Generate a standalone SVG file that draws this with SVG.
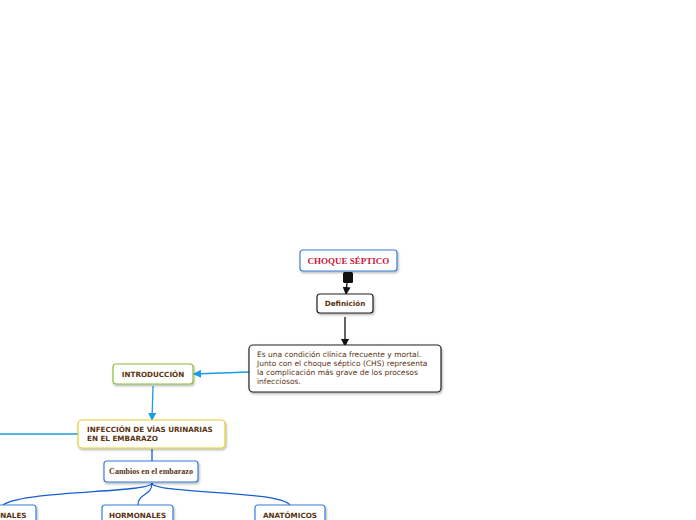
<svg xmlns="http://www.w3.org/2000/svg" width="696" height="520" viewBox="0 0 696 520">
<style>
.box{fill:#fff;stroke-width:1.2;filter:url(#sh)}
.b{stroke:#3a7fdc}
.k{stroke:#222}
.g{stroke:#8cbc3c}
.y{stroke:#e5d02a}
.t{font-family:"DejaVu Sans",Verdana,sans-serif;font-size:7.2px;fill:#5a3410;font-weight:bold}
.d{font-family:"DejaVu Sans",Verdana,sans-serif;font-size:7.5px;fill:#5a3410}
.s{font-family:"Liberation Serif","Times New Roman",serif}
.lb{fill:none;stroke:#1c9be0;stroke-width:1.3}
.db{fill:none;stroke:#1a5fd0;stroke-width:1.3}
.lk{fill:none;stroke:#111;stroke-width:1.3}
</style>
<defs>
<filter id="sh" x="-10%" y="-20%" width="130%" height="160%">
<feDropShadow dx="1" dy="1.5" stdDeviation="1" flood-color="#000" flood-opacity="0.3"/>
</filter>
<marker id="ak" markerWidth="8" markerHeight="8" refX="7" refY="4" orient="auto" markerUnits="userSpaceOnUse"><path d="M0,0 L8,4 L0,8 Z" fill="#111"/></marker>
<marker id="ab" markerWidth="8" markerHeight="8" refX="7" refY="4" orient="auto" markerUnits="userSpaceOnUse"><path d="M0,0 L8,4 L0,8 Z" fill="#1c9be0"/></marker>
</defs>
<g id="connectors">
<rect x="343" y="272" width="10" height="11" rx="1.5" fill="#111"/>
<path class="lk" d="M347,283 L346,294" marker-end="url(#ak)"/>
<path class="lk" d="M345,317 L345,346" marker-end="url(#ak)"/>
<path class="lb" d="M249,372 L194,374" marker-end="url(#ab)"/>
<path class="lb" d="M153,386 L152,420" marker-end="url(#ab)"/>
<path class="lb" d="M0,434 L78,434"/>
<path class="db" d="M152,449 L152,462"/>
<path class="db" d="M152,483 C152,493 25,490 3,505"/>
<path class="db" d="M152,483 C152,496 138,493 138,505"/>
<path class="db" d="M152,483 C152,494 278,490 290,505"/>
</g>
<g id="n-choque">
<rect class="box b" x="300" y="250" width="97" height="21" rx="3"/>
<text x="348.5" y="264" text-anchor="middle" class="s" font-size="9" font-weight="bold" fill="#c8163c">CHOQUE SÉPTICO</text>
</g>
<g id="n-definicion">
<rect class="box k" x="317" y="294" width="56" height="19" rx="3"/>
<text x="345" y="306" text-anchor="middle" class="t">Definición</text>
</g>
<g id="n-desc">
<rect class="box k" x="249" y="345" width="192" height="47" rx="4"/>
<text class="d" x="257" y="357">Es una condición clínica frecuente y mortal.</text>
<text class="d" x="257" y="366">Junto con el choque séptico (CHS) representa</text>
<text class="d" x="257" y="375">la complicación más grave de los procesos</text>
<text class="d" x="257" y="384">infecciosos.</text>
</g>
<g id="n-intro">
<rect class="box g" x="113" y="364" width="80" height="20" rx="3"/>
<text x="153" y="377" text-anchor="middle" class="t">INTRODUCCIÓN</text>
</g>
<g id="n-infeccion">
<rect class="box y" x="78" y="420" width="147" height="28" rx="4"/>
<text x="87" y="432" class="t">INFECCIÓN DE VÍAS URINARIAS</text>
<text x="87" y="441" class="t">EN EL EMBARAZO</text>
</g>
<g id="n-cambios">
<rect class="box b" x="104" y="461" width="94" height="21" rx="3"/>
<text x="151" y="474" text-anchor="middle" class="s" font-size="8" font-weight="bold" fill="#5a3410">Cambios en el embarazo</text>
</g>
<g id="n-funcionales">
<rect class="box b" x="-40" y="505" width="76" height="24" rx="3"/>
<text x="-2" y="518" text-anchor="middle" class="t">FUNCIONALES</text>
</g>
<g id="n-hormonales">
<rect class="box b" x="102" y="505" width="71" height="24" rx="3"/>
<text x="137.5" y="518" text-anchor="middle" class="t">HORMONALES</text>
</g>
<g id="n-anatomicos">
<rect class="box b" x="255" y="505" width="70" height="24" rx="3"/>
<text x="290" y="518" text-anchor="middle" class="t">ANATÓMICOS</text>
</g>
</svg>
